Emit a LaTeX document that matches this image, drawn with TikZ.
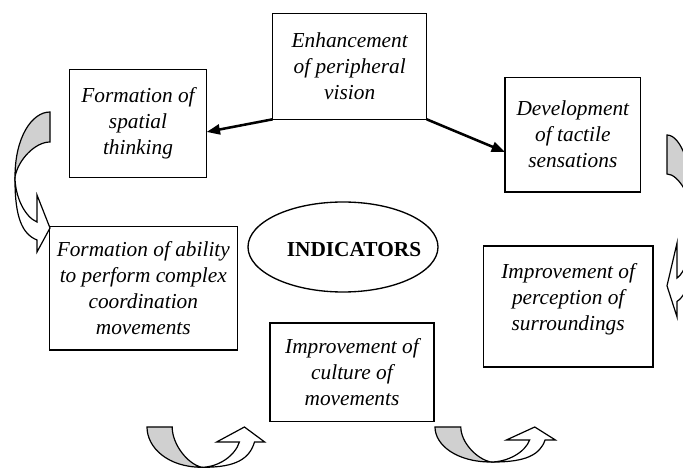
\documentclass[tikz,border=0pt]{standalone}
\usepackage{fontspec}
\setmainfont{Liberation Serif}
\usetikzlibrary{arrows.meta,shapes.geometric}
\definecolor{shadegray}{RGB}{208,208,208}
\newcommand{\curvedarr}{%
  \filldraw[carr,fill=shadegray] (0,0) .. controls (-18,0) and (-35,25) .. (-35,65)
     .. controls (-32,48) and (-15,30) .. (0,30) -- cycle;
  \filldraw[carr,fill=white] (-35,65) .. controls (-35,85) and (-25,105) .. (-13,110)
     -- (-13,83) -- (0,116) -- (-13,140) -- (-13,128)
     .. controls (-28,122) and (-35,105) .. (-35,68) -- cycle;
}
\begin{document}
\begin{tikzpicture}[x=0.75pt,y=-0.75pt,
  txt/.style={font=\itshape\fontsize{16}{19.5}\selectfont},
  box/.style={draw,line width=1pt,inner sep=0pt,outer sep=0pt,align=center,txt},
  lbl/.style={inner sep=0pt,align=center,txt},
  conn/.style={line width=1.9pt,-{Triangle[length=10pt,width=7.5pt]}},
  carr/.style={line width=0.9pt,line join=miter}]
\useasboundingbox (0,0) rectangle (683,470);

\node[box,minimum width=115.5pt,minimum height=79.5pt] (enh) at (349.7,66.3) {Enhancement\\of peripheral\\vision};
\node[box,minimum width=103pt,minimum height=81pt] (spa) at (138,123.3) {Formation of\\spatial\\thinking};
\node[box,minimum width=101.8pt,minimum height=86pt] (dev) at (572.85,134.65) {Development\\of tactile\\sensations};
\node[box,minimum width=141pt,minimum height=92.5pt] (abi) at (143.3,288.3) {Formation of ability\\to perform complex\\coordination\\movements};
\node[box,minimum width=127.3pt,minimum height=90.75pt] (per) at (568.2,306.5) {};
\node[lbl] (pertext) at (568.2,299) {Improvement of\\perception of\\surroundings};
\node[box,minimum width=123pt,minimum height=73.9pt] (cul) at (352,372.3) {Improvement of\\culture of\\movements};
\node[draw,ellipse,line width=1pt,minimum width=142.5pt,minimum height=67.5pt,inner sep=0pt] (ell) at (343,247) {};
\node[font=\bfseries\fontsize{16}{19.5}\selectfont,inner sep=0pt] (ind) at (354,250) {INDICATORS};

\draw[conn] (enh.south west) -- ([yshift=-6.5pt]spa.east);
\draw[conn] (enh.south east) -- ([yshift=-13pt]dev.west);

\begin{scope}
\clip (0,0) rectangle (683,470);
\begin{scope}[shift={(50,112)}]
  \curvedarr
\end{scope}
\begin{scope}[shift={(667,135)},x={(-0.58pt,0pt)},y={(0pt,-0.975pt)}]
  \curvedarr
\end{scope}
\begin{scope}[shift={(147,427)},x={(0pt,0.8625pt)},y={(0.63pt,0pt)}]
  \curvedarr
\end{scope}
\begin{scope}[shift={(435,427)},x={(0pt,0.75pt)},y={(0.645pt,0pt)}]
  \curvedarr
\end{scope}
\end{scope}
\end{tikzpicture}
\end{document}
